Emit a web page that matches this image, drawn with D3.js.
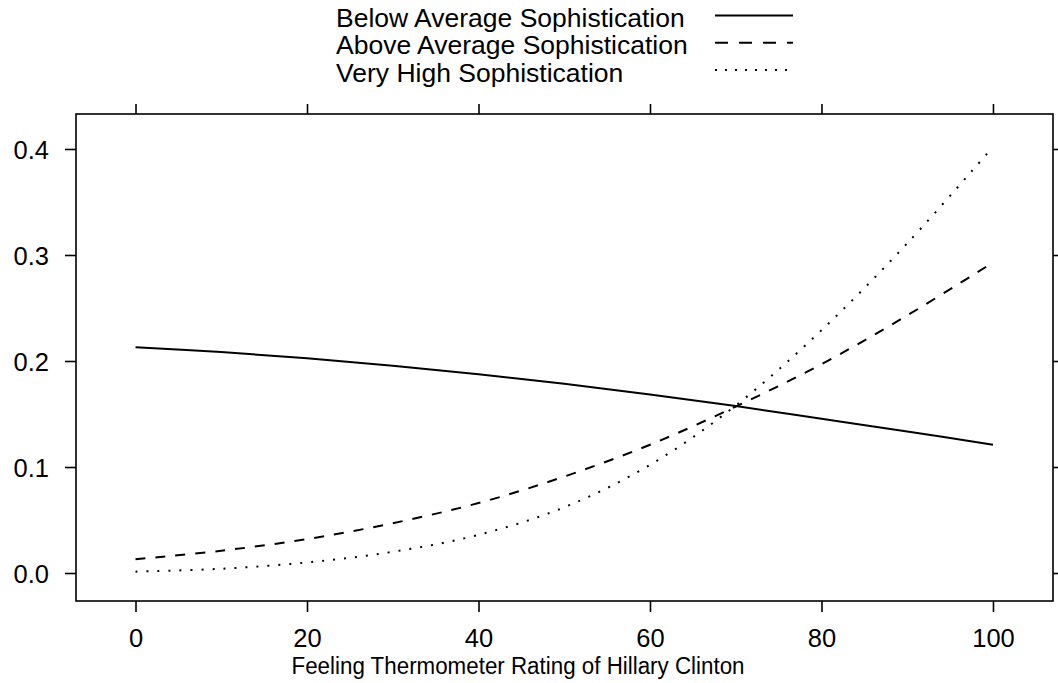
<!DOCTYPE html>
<html>
<head>
<meta charset="utf-8">
<script src="https://cdn.jsdelivr.net/npm/d3@7"></script>
<style>
  html, body { margin: 0; padding: 0; background: #fff; }
  svg { display: block; font-family: "Liberation Sans", Arial, sans-serif; }
</style>
</head>
<body>
<svg id="chart" width="1058" height="683"></svg>
<script>
// Predicted probability by feeling-thermometer rating, for three levels of sophistication
const ratings = [0, 10, 20, 30, 40, 50, 60, 70, 80, 90, 100];
const belowAverage = [0.213, 0.2085, 0.2025, 0.1955, 0.1875, 0.1785, 0.1685, 0.1575, 0.1455, 0.1335, 0.121];
const aboveAverage = [0.013, 0.021, 0.032, 0.047, 0.066, 0.091, 0.121, 0.157, 0.197, 0.243, 0.293];
const veryHigh = [0.0013, 0.004, 0.010, 0.020, 0.036, 0.062, 0.102, 0.158, 0.229, 0.311, 0.402];

const seriesNames = ["Below Average Sophistication", "Above Average Sophistication", "Very High Sophistication"];
const seriesValues = [belowAverage, aboveAverage, veryHigh];

const xTicks = [0, 20, 40, 60, 80, 100];
const yTicks = [0.0, 0.1, 0.2, 0.3, 0.4];
const xTitle = "Feeling Thermometer Rating of Hillary Clinton";

// line styles per series: solid, dashed, dotted
const styles = [
  { plot: null, key: null, width: 2 },
  { plot: "10,10", key: "13,11", width: 2 },
  { plot: "2,9", key: "2,8", width: 2 }
];

const svg = d3.select("#chart");
const box = { left: 76, right: 1053, top: 114, bottom: 601 };

const x = d3.scaleLinear().domain([-6.94, 107.0]).range([box.left, box.right]);
const y = d3.scaleLinear().domain([-0.0264, 0.433]).range([box.bottom, box.top]);

const fmtY = d3.format(".1f");

// frame
svg.append("rect")
  .attr("x", box.left).attr("y", box.top)
  .attr("width", box.right - box.left).attr("height", box.bottom - box.top)
  .attr("fill", "none").attr("stroke", "#000").attr("stroke-width", 1.6);

function styleAxis(g) {
  g.select(".domain").remove();
  g.selectAll(".tick line").attr("stroke", "#000").attr("stroke-width", 1.6);
  g.selectAll(".tick text").attr("fill", "#000").attr("font-size", 25.5);
}

// bottom axis with labels
svg.append("g")
  .attr("transform", `translate(0,${box.bottom})`)
  .call(d3.axisBottom(x).tickValues(xTicks).tickSize(11).tickPadding(0).tickFormat(d3.format("d")))
  .call(styleAxis)
  .call(g => g.selectAll(".tick text").attr("y", 46).attr("dy", null));

// top axis, ticks only
svg.append("g")
  .attr("transform", `translate(0,${box.top})`)
  .call(d3.axisTop(x).tickValues(xTicks).tickSize(10).tickFormat(""))
  .call(styleAxis);

// left axis with labels
svg.append("g")
  .attr("transform", `translate(${box.left},0)`)
  .call(d3.axisLeft(y).tickValues(yTicks).tickSize(11).tickPadding(16).tickFormat(fmtY))
  .call(styleAxis)
  .call(g => g.selectAll(".tick text").attr("dy", "0.38em"));

// right axis, ticks only
svg.append("g")
  .attr("transform", `translate(${box.right},0)`)
  .call(d3.axisRight(y).tickValues(yTicks).tickSize(11).tickFormat(""))
  .call(styleAxis);

// x-axis title
svg.append("text")
  .attr("x", 518).attr("y", 674)
  .attr("text-anchor", "middle")
  .attr("font-size", 23)
  .attr("textLength", 453)
  .attr("lengthAdjust", "spacingAndGlyphs")
  .attr("fill", "#000")
  .text(xTitle);

// curves
const line = d3.line()
  .x((d, i) => x(ratings[i]))
  .y(d => y(d))
  .curve(d3.curveCatmullRom.alpha(0.5));

seriesValues.forEach((vals, i) => {
  svg.append("path")
    .datum(vals)
    .attr("d", line)
    .attr("fill", "none")
    .attr("stroke", "#000")
    .attr("stroke-width", styles[i].width)
    .attr("stroke-dasharray", styles[i].plot);
});

// legend
const legend = svg.append("g");
seriesNames.forEach((name, i) => {
  const baseline = 27 + i * 27.3;
  legend.append("text")
    .attr("x", 336).attr("y", baseline)
    .attr("font-size", 26.5)
    .attr("fill", "#000")
    .text(name);
  legend.append("line")
    .attr("x1", 715).attr("x2", 793)
    .attr("y1", baseline - 11.5).attr("y2", baseline - 11.5)
    .attr("stroke", "#000")
    .attr("stroke-width", styles[i].width)
    .attr("stroke-dasharray", styles[i].key);
});
</script>
</body>
</html>
